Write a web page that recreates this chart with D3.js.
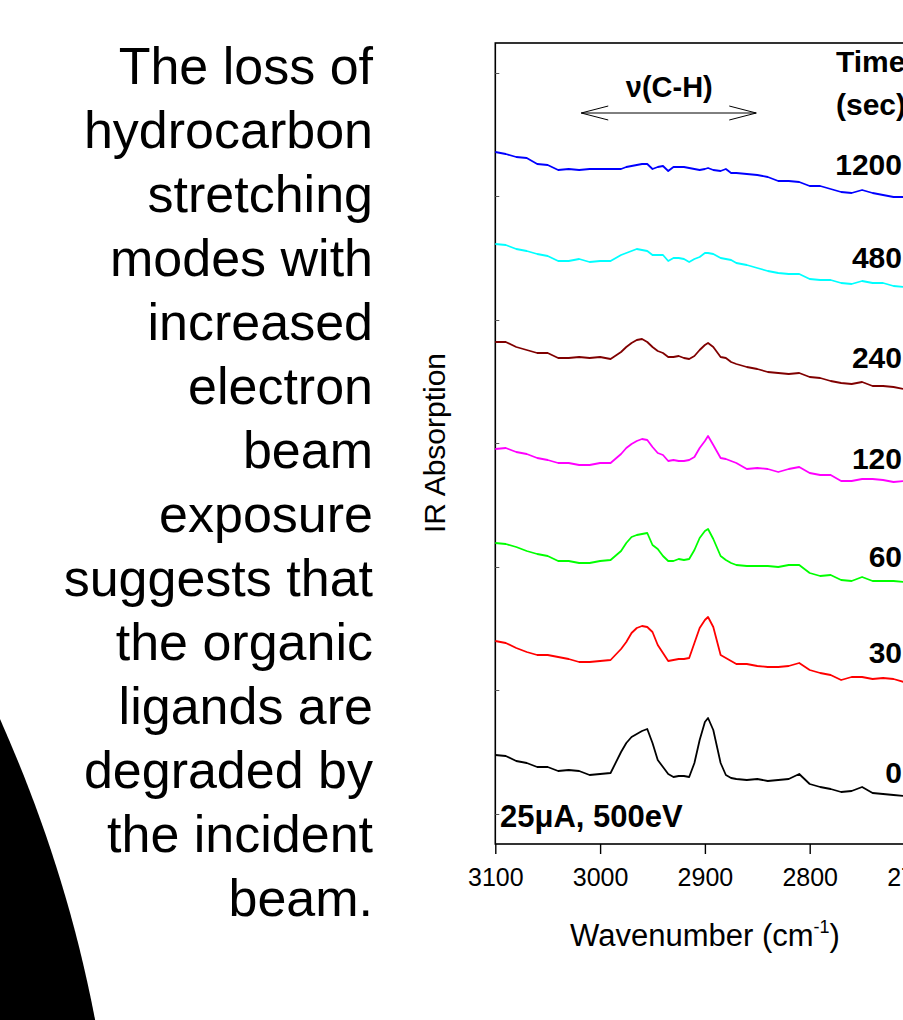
<!DOCTYPE html>
<html>
<head>
<meta charset="utf-8">
<script src="https://cdn.jsdelivr.net/npm/d3@7"></script>
<style>
  html, body { margin: 0; padding: 0; background: #ffffff; }
  svg { display: block; font-family: "Liberation Sans", Arial, sans-serif; }
</style>
</head>
<body>
<svg id="slide" width="903" height="1020"></svg>
<script>
// wavenumbers (cm-1) shared by all spectra
var wavenumbers = [3100, 3090, 3080, 3070, 3060, 3050, 3040, 3030, 3020, 3010, 3000, 2990, 2980,
    2975, 2970, 2965, 2960, 2955, 2950, 2945, 2940, 2935, 2930, 2925, 2920, 2915, 2910, 2905, 2900,
    2897, 2892, 2885, 2880, 2875, 2870,
    2860, 2850, 2840, 2830, 2820, 2810, 2800, 2790, 2780, 2770, 2760, 2750, 2740, 2730, 2720, 2710];

// offset IR absorption (arbitrary units), one array per exposure time
var abs0 = [0.87, 0.86, 0.81, 0.79, 0.75, 0.75, 0.71, 0.72, 0.71, 0.67, 0.68, 0.69, 0.90,
    0.99, 1.05, 1.08, 1.11, 1.13, 0.99, 0.82, 0.75, 0.68, 0.65, 0.66, 0.66, 0.65, 0.79, 1.02, 1.20,
    1.24, 1.12, 0.79, 0.67, 0.64, 0.63,
    0.62, 0.63, 0.61, 0.62, 0.63, 0.68, 0.58, 0.55, 0.53, 0.50, 0.51, 0.55, 0.49, 0.48, 0.47, 0.46];
var abs30 = [2.01, 1.99, 1.94, 1.90, 1.87, 1.87, 1.85, 1.83, 1.80, 1.80, 1.81, 1.82, 1.93,
    2.00, 2.09, 2.14, 2.16, 2.15, 2.10, 1.97, 1.89, 1.81, 1.82, 1.83, 1.83, 1.84, 1.99, 2.14, 2.22,
    2.25, 2.15, 1.87, 1.84, 1.81, 1.78,
    1.78, 1.76, 1.75, 1.75, 1.76, 1.79, 1.72, 1.69, 1.67, 1.62, 1.65, 1.65, 1.63, 1.64, 1.63, 1.60];
var abs60 = [2.99, 2.98, 2.95, 2.91, 2.88, 2.86, 2.81, 2.81, 2.79, 2.79, 2.81, 2.82, 2.91,
    2.99, 3.05, 3.07, 3.08, 3.09, 2.97, 2.93, 2.86, 2.81, 2.81, 2.83, 2.82, 2.83, 2.92, 3.04, 3.11,
    3.13, 3.03, 2.86, 2.82, 2.79, 2.77,
    2.76, 2.76, 2.76, 2.75, 2.77, 2.77, 2.69, 2.66, 2.67, 2.62, 2.61, 2.65, 2.61, 2.61, 2.61, 2.60];
var abs120 = [3.93, 3.94, 3.90, 3.88, 3.84, 3.82, 3.79, 3.79, 3.77, 3.77, 3.79, 3.79, 3.88,
    3.94, 3.98, 4.01, 4.03, 4.02, 3.95, 3.89, 3.87, 3.81, 3.82, 3.81, 3.81, 3.82, 3.85, 3.94, 4.01,
    4.06, 3.97, 3.84, 3.83, 3.81, 3.79,
    3.73, 3.74, 3.73, 3.70, 3.73, 3.75, 3.69, 3.67, 3.67, 3.61, 3.61, 3.63, 3.63, 3.62, 3.60, 3.61];
var abs240 = [5.00, 5.00, 4.95, 4.92, 4.89, 4.89, 4.84, 4.84, 4.85, 4.84, 4.85, 4.83, 4.90,
    4.95, 4.99, 5.02, 5.03, 5.00, 4.95, 4.91, 4.89, 4.85, 4.85, 4.86, 4.84, 4.83, 4.86, 4.92, 4.97,
    4.99, 4.95, 4.85, 4.84, 4.80, 4.78,
    4.75, 4.73, 4.70, 4.69, 4.68, 4.69, 4.65, 4.64, 4.61, 4.59, 4.58, 4.60, 4.56, 4.56, 4.55, 4.53];
var abs480 = [5.98, 5.97, 5.93, 5.91, 5.88, 5.86, 5.81, 5.81, 5.83, 5.80, 5.81, 5.81, 5.87,
    5.89, 5.91, 5.93, 5.92, 5.91, 5.87, 5.87, 5.87, 5.81, 5.84, 5.84, 5.83, 5.80, 5.83, 5.85, 5.89,
    5.89, 5.88, 5.84, 5.83, 5.82, 5.79,
    5.77, 5.74, 5.71, 5.69, 5.68, 5.68, 5.63, 5.62, 5.62, 5.59, 5.58, 5.61, 5.59, 5.59, 5.56, 5.55];
var abs1200 = [6.90, 6.88, 6.85, 6.84, 6.78, 6.77, 6.72, 6.73, 6.72, 6.73, 6.73, 6.73, 6.73,
    6.75, 6.76, 6.77, 6.78, 6.78, 6.73, 6.75, 6.76, 6.71, 6.75, 6.75, 6.75, 6.74, 6.73, 6.72, 6.73,
    6.74, 6.72, 6.71, 6.73, 6.69, 6.69,
    6.68, 6.67, 6.65, 6.61, 6.61, 6.60, 6.56, 6.56, 6.53, 6.50, 6.49, 6.52, 6.49, 6.47, 6.45, 6.45];

var timeLabels = ["0", "30", "60", "120", "240", "480", "1200"];
var xTicks = [3100, 3000, 2900, 2800, 2700];
var yTicks = [0.28, 1.52, 2.75, 3.99, 5.22, 6.46, 7.69];

var slideText = ["The loss of", "hydrocarbon", "stretching", "modes with", "increased",
    "electron", "beam", "exposure", "suggests that", "the organic", "ligands are",
    "degraded by", "the incident", "beam."];

var seriesValues = [abs0, abs30, abs60, abs120, abs240, abs480, abs1200];
var seriesColors = ["#000000", "#ff0000", "#00ff00", "#ff00ff", "#800000", "#00ffff", "#0000ff"];
var labelBaselines = [783, 663, 567, 469, 368, 268, 175];

var svg = d3.select("#slide");

// black slide decoration, bottom left
var blob = d3.path();
blob.moveTo(0, 719);
blob.bezierCurveTo(38, 805, 74, 905, 97, 1030);
blob.lineTo(0, 1030);
blob.closePath();
svg.append("path").attr("d", blob.toString()).attr("fill", "#000000");

// slide text, right aligned
svg.append("g").selectAll("text")
    .data(slideText)
    .enter()
    .append("text")
    .attr("x", 373)
    .attr("y", function(d, i){ return 84 + i * 64; })
    .attr("text-anchor", "end")
    .attr("font-size", "52px")
    .attr("fill", "#000000")
    .text(function(d){ return d; });

// chart
var plotLeft = 495.3, plotTop = 43, plotBottom = 844;
var x = d3.scaleLinear().domain([3100, 2700]).range([plotLeft, 914.5]);
var y = d3.scaleLinear().domain([-0.02, 7.99]).range([plotBottom, plotTop]);

var chart = svg.append("g");

// frame (right side runs past the slide edge)
chart.append("rect")
    .attr("x", x(3100))
    .attr("y", plotTop)
    .attr("width", x(2700) - x(3100))
    .attr("height", plotBottom - plotTop)
    .attr("fill", "none")
    .attr("stroke", "#000000")
    .attr("stroke-width", 1.6);

// x axis
var xAxis = chart.append("g")
    .attr("transform", "translate(0," + plotBottom + ")")
    .call(d3.axisBottom(x).tickValues(xTicks).tickSize(10).tickPadding(14).tickFormat(d3.format("d")));
xAxis.select(".domain").remove();
xAxis.selectAll("line").attr("stroke-width", 1.4);
xAxis.selectAll("text")
    .attr("font-family", "Liberation Sans, Arial, sans-serif")
    .attr("font-size", "25px")
    .attr("fill", "#000000");

// tiny inward y ticks, no labels
var yAxis = chart.append("g")
    .attr("transform", "translate(" + plotLeft + ",0)")
    .call(d3.axisLeft(y).tickValues(yTicks).tickSize(-4).tickFormat(""));
yAxis.select(".domain").remove();
yAxis.selectAll("line").attr("stroke", "#555555").attr("stroke-width", 1);

// spectra
var line = d3.line()
    .x(function(d, i){ return x(wavenumbers[i]); })
    .y(function(d){ return y(d); });

chart.selectAll(".spectrum")
    .data(seriesValues)
    .enter()
    .append("path")
    .attr("class", "spectrum")
    .attr("d", line)
    .attr("fill", "none")
    .attr("stroke", function(d, i){ return seriesColors[i]; })
    .attr("stroke-width", 1.8)
    .attr("stroke-linejoin", "round");

// time labels
chart.selectAll(".time-label")
    .data(timeLabels)
    .enter()
    .append("text")
    .attr("class", "time-label")
    .attr("x", 902)
    .attr("y", function(d, i){ return labelBaselines[i]; })
    .attr("text-anchor", "end")
    .attr("font-size", "30px")
    .attr("font-weight", "bold")
    .text(function(d){ return d; });

chart.append("text").attr("x", 836).attr("y", 72)
    .attr("font-size", "30px").attr("font-weight", "bold").text("Time");
chart.append("text").attr("x", 836).attr("y", 115)
    .attr("font-size", "30px").attr("font-weight", "bold").text("(sec)");

// nu(C-H) double arrow
var arrowY = 113, a1 = x(3018), a2 = x(2851);
chart.append("line")
    .attr("x1", a1).attr("x2", a2).attr("y1", arrowY).attr("y2", arrowY)
    .attr("stroke", "#000000").attr("stroke-width", 1);
chart.append("path")
    .attr("d", "M" + (a1 + 27) + "," + (arrowY - 7) + "L" + a1 + "," + arrowY + "L" + (a1 + 27) + "," + (arrowY + 7)
        + "M" + (a2 - 27) + "," + (arrowY - 7) + "L" + a2 + "," + arrowY + "L" + (a2 - 27) + "," + (arrowY + 7))
    .attr("fill", "none").attr("stroke", "#000000").attr("stroke-width", 1);
chart.append("text")
    .attr("x", x(2934)).attr("y", 97)
    .attr("text-anchor", "middle")
    .attr("font-size", "29px").attr("font-weight", "bold")
    .text("\u03bd(C-H)");

// beam conditions
chart.append("text")
    .attr("x", 500).attr("y", 827)
    .attr("font-size", "31px").attr("font-weight", "bold")
    .text("25\u03bcA, 500eV");

// axis titles
var xTitle = svg.append("text")
    .attr("x", 705).attr("y", 946)
    .attr("text-anchor", "middle")
    .attr("font-size", "31px");
xTitle.append("tspan").text("Wavenumber (cm");
xTitle.append("tspan").attr("font-size", "18px").attr("dy", -13).text("-1");
xTitle.append("tspan").attr("dy", 13).text(")");

svg.append("text")
    .attr("transform", "translate(445,443) rotate(-90)")
    .attr("text-anchor", "middle")
    .attr("font-size", "30px")
    .text("IR Absorption");
</script>
</body>
</html>
